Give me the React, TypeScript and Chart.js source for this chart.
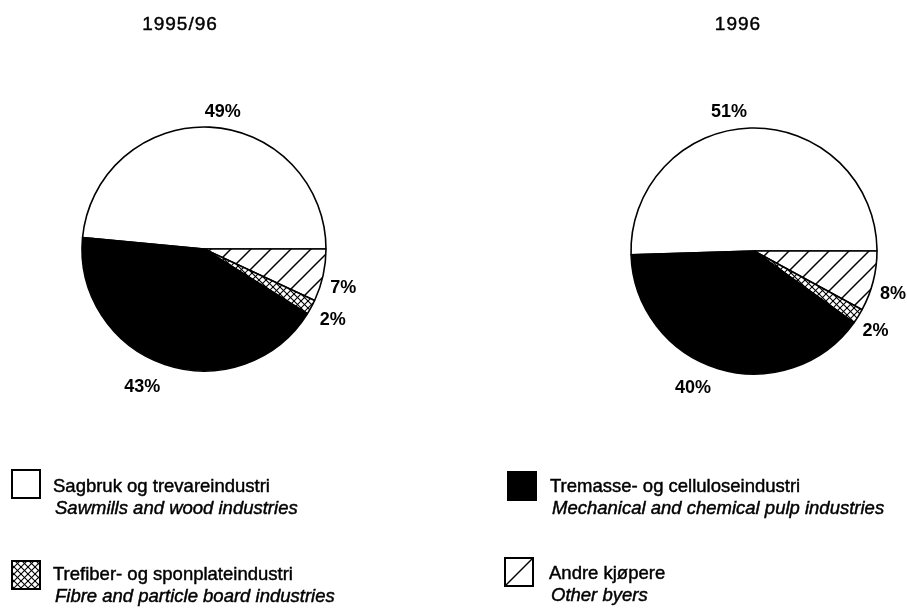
import React, { useEffect, useRef } from 'react';
import { Chart, registerables } from 'chart.js';

Chart.register(...registerables);

// ---------- data ----------
const categoriesNo = [
  'Sagbruk og trevareindustri',
  'Andre kjøpere',
  'Trefiber- og sponplateindustri',
  'Tremasse- og celluloseindustri',
];
const categoriesEn = [
  'Sawmills and wood industries',
  'Other byers',
  'Fibre and particle board industries',
  'Mechanical and chemical pulp industries',
];
const chartTitles = ['1995/96', '1996'];
const values9596 = [49, 7, 2, 43];
const values96 = [51, 8, 2, 40];

// ---------- styles / layout ----------
const W = 907;
const H = 609;
const FONT = '"Liberation Sans", Arial, Helvetica, sans-serif';

// [angle shift in degrees, extra radius in px] for each slice label
const labelNudge9596 = [
  [5.1, 16],
  [3, 22.5],
  [0.4, 25],
  [5.4, 29],
];
const labelNudge96 = [
  [-9.3, 18],
  [2.9, 22.5],
  [1.3, 22.5],
  [7.1, 27],
];

// legend grid: category index, box position, text position (baseline)
const legendLayout = [
  { cat: 0, box: [12, 470], text: [53, 492] },
  { cat: 3, box: [508, 472], text: [550, 492] },
  { cat: 2, box: [12, 561], text: [53, 580] },
  { cat: 1, box: [505, 558], text: [549, 579] },
];

function makePattern(size: number, draw: (g: CanvasRenderingContext2D, s: number) => void) {
  const c = document.createElement('canvas');
  c.width = size;
  c.height = size;
  const g = c.getContext('2d')!;
  g.fillStyle = '#ffffff';
  g.fillRect(0, 0, size, size);
  g.strokeStyle = '#000000';
  draw(g, size);
  return g.createPattern(c, 'repeat')!;
}

function slashLines(g: CanvasRenderingContext2D, s: number) {
  for (const k of [-s, 0, s]) {
    g.beginPath();
    g.moveTo(-1, s + k + 1);
    g.lineTo(s + 1, k - 1);
    g.stroke();
  }
}
function backslashLines(g: CanvasRenderingContext2D, s: number) {
  for (const k of [-s, 0, s]) {
    g.beginPath();
    g.moveTo(-1, k - 1);
    g.lineTo(s + 1, k + s + 1);
    g.stroke();
  }
}

function heavyText(ctx: CanvasRenderingContext2D, text: string, x: number, y: number) {
  ctx.fillText(text, x, y);
  ctx.lineWidth = 0.45;
  ctx.strokeStyle = '#000';
  ctx.strokeText(text, x, y);
}

export default function App() {
  const ref1 = useRef<HTMLCanvasElement>(null);
  const ref2 = useRef<HTMLCanvasElement>(null);

  useEffect(() => {
    const hatch = makePattern(20, (g, s) => {
      g.lineWidth = 1.5;
      slashLines(g, s);
    });
    const cross = makePattern(7, (g, s) => {
      g.lineWidth = 1.1;
      slashLines(g, s);
      backslashLines(g, s);
    });
    const fills: any[] = ['#ffffff', hatch, cross, '#000000'];
    const legendFills: any[] = ['#ffffff', '#ffffff', cross, '#000000'];
    const legendDiag = [false, true, false, false];

    const sum = (a: number[]) => a.reduce((p, v) => p + v, 0);

    const labelPlugin = (nudge: number[][], title: string, titleX: number) => ({
      id: 'sliceLabels',
      afterDatasetsDraw(chart: any) {
        const ctx = chart.ctx as CanvasRenderingContext2D;
        const meta = chart.getDatasetMeta(0);
        const data = chart.data.datasets[0].data as number[];
        ctx.save();
        ctx.fillStyle = '#000';
        ctx.textAlign = 'center';
        ctx.textBaseline = 'middle';
        ctx.font = `bold 18px ${FONT}`;
        meta.data.forEach((arc: any, i: number) => {
          const p = arc.getProps(['x', 'y', 'startAngle', 'endAngle', 'outerRadius'], true);
          const mid = (p.startAngle + p.endAngle) / 2 + (nudge[i][0] * Math.PI) / 180;
          const r = p.outerRadius + nudge[i][1];
          ctx.fillText(`${data[i]}%`, p.x + r * Math.cos(mid), p.y + r * Math.sin(mid));
        });
        // title
        ctx.font = `19px ${FONT}`;
        (ctx as any).letterSpacing = '1px';
        ctx.textBaseline = 'alphabetic';
        heavyText(ctx, title, titleX, 30);
        (ctx as any).letterSpacing = '0px';
        ctx.restore();
      },
    });

    const legendPlugin = {
      id: 'customLegend',
      afterDraw(chart: any) {
        const ctx = chart.ctx as CanvasRenderingContext2D;
        ctx.save();
        const s = 28;
        legendLayout.forEach((item) => {
          const [bx, by] = item.box;
          ctx.fillStyle = legendFills[item.cat];
          ctx.fillRect(bx, by, s, s);
          ctx.strokeStyle = '#000';
          ctx.lineWidth = 2;
          ctx.strokeRect(bx, by, s, s);
          if (legendDiag[item.cat]) {
            ctx.lineWidth = 1.5;
            ctx.beginPath();
            ctx.moveTo(bx, by + s);
            ctx.lineTo(bx + s, by);
            ctx.stroke();
          }
          const [tx, ty] = item.text;
          ctx.fillStyle = '#000';
          ctx.textAlign = 'left';
          ctx.textBaseline = 'alphabetic';
          ctx.font = `18.5px ${FONT}`;
          heavyText(ctx, categoriesNo[item.cat], tx, ty);
          ctx.font = `italic 18.5px ${FONT}`;
          heavyText(ctx, categoriesEn[item.cat], tx + 2, ty + 22);
        });
        ctx.restore();
      },
    };

    const make = (
      canvas: HTMLCanvasElement,
      values: number[],
      radius: number,
      padding: any,
      plugins: any[]
    ) =>
      new Chart(canvas, {
        type: 'pie',
        data: {
          labels: categoriesNo,
          datasets: [
            {
              data: values,
              backgroundColor: fills,
              borderColor: '#000000',
              borderWidth: 1.6,
              radius,
            } as any,
          ],
        },
        options: {
          responsive: false,
          animation: false,
          events: [],
          rotation: 90 - (values[0] / sum(values)) * 360,
          layout: { padding },
          plugins: {
            legend: { display: false },
            tooltip: { enabled: false },
            title: { display: false },
          },
        } as any,
        plugins,
      });

    const c1 = make(
      ref1.current!,
      values9596,
      122,
      { left: 0, top: 0, right: W - 408, bottom: H - 498 },
      [labelPlugin(labelNudge9596, chartTitles[0], 180), legendPlugin]
    );
    const c2 = make(
      ref2.current!,
      values96,
      123,
      { left: 601, top: 0, right: 0, bottom: H - 502 },
      [labelPlugin(labelNudge96, chartTitles[1], 738)]
    );
    return () => {
      c1.destroy();
      c2.destroy();
    };
  }, []);

  const style: React.CSSProperties = {
    position: 'absolute',
    left: 0,
    top: 0,
    width: W,
    height: H,
  };
  return (
    <div style={{ position: 'absolute', left: 0, top: 0, width: W, height: H, background: '#fff', overflow: 'hidden' }}>
      <canvas ref={ref1} width={W} height={H} style={style} />
      <canvas ref={ref2} width={W} height={H} style={style} />
    </div>
  );
}
